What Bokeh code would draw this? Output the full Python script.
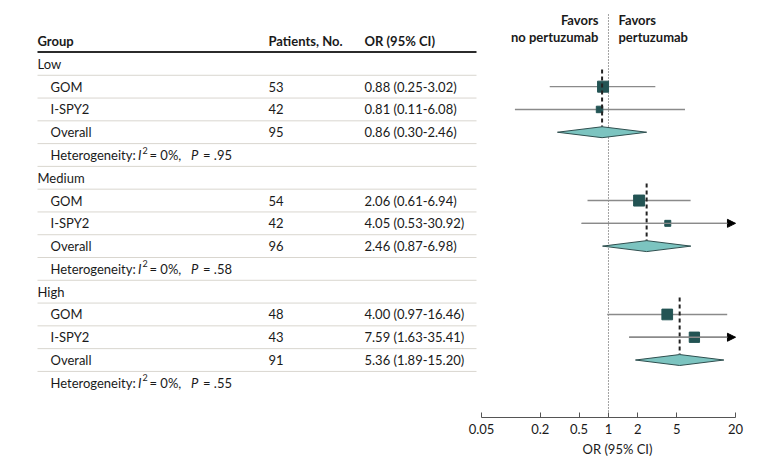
import math
from bokeh.plotting import figure
from bokeh.models import Range1d, LogAxis, LogScale, FixedTicker, Arrow, NormalHead, Title
from bokeh.core.properties import value
from bokeh.embed import file_html
from bokeh.resources import INLINE

# ---------------- data ----------------
groups = ["Low", "Medium", "High"]
studies = ["GOM", "I-SPY2"]
overall_label = "Overall"
patients = [53, 42, 95, 54, 42, 96, 48, 43, 91]          # GOM, I-SPY2, Overall per group
or_est = [0.88, 0.81, 0.86, 2.06, 4.05, 2.46, 4.00, 7.59, 5.36]
ci_lo = [0.25, 0.11, 0.30, 0.61, 0.53, 0.87, 0.97, 1.63, 1.89]
ci_hi = [3.02, 6.08, 2.46, 6.94, 30.92, 6.98, 16.46, 35.41, 15.20]
study_weight = [11, 6.5, 11, 6, 10.7, 10.3]               # square size per study row
het_i2 = ["0%", "0%", "0%"]
het_p = [".95", ".58", ".55"]
tick_values = [0.05, 0.2, 0.5, 1, 2, 5, 20]
tick_labels = ["0.05", "0.2", "0.5", "1", "2", "5", "20"]
header = ["Group", "Patients, No.", "OR (95% CI)"]
favors_left = ["Favors", "no pertuzumab"]
favors_right = ["Favors", "pertuzumab"]
x_label = "OR (95% CI)"

# ---------------- layout ----------------
W, H = 752, 460
FONT = value("Lato")
FS = "13px"
TXT = "#1a1a1a"
ROW0 = 40.6          # canvas y of header row centre
ROWH = 22.78
FRAME_BOTTOM = 417
ppd = 97.6           # pixels per decade
x005 = 481.0         # canvas x of 0.05
x20 = x005 + ppd * math.log10(20 / 0.05)
log_lo = 10 ** (math.log10(0.05) - x005 / ppd)
log_hi = 10 ** (math.log10(20) + (W - x20) / ppd)


def k_of(py):
    return (py - ROW0) / ROWH


p = figure(width=W, height=H,
           x_range=Range1d(0, W),
           y_range=Range1d(k_of(FRAME_BOTTOM), k_of(0)),
           x_axis_location=None, y_axis_location=None,
           output_backend="svg", toolbar_location=None,
           min_border=0, min_border_bottom=H - FRAME_BOTTOM)
p.extra_x_ranges = {"or": Range1d(log_lo, log_hi)}
p.extra_x_scales = {"or": LogScale()}
p.grid.visible = False
p.outline_line_color = None
p.background_fill_color = "white"

ax = LogAxis(x_range_name="or", ticker=FixedTicker(ticks=tick_values, minor_ticks=[]),
             bounds=(tick_values[0], tick_values[-1]))
ax.major_label_overrides = {v: l for v, l in zip(tick_values, tick_labels)}
ax.axis_line_color = "#555555"
ax.major_tick_line_color = "#555555"
ax.major_tick_in = 5
ax.major_tick_out = 0
ax.minor_tick_line_color = None
ax.major_label_text_font = "Lato"
ax.major_label_text_font_size = FS
ax.major_label_text_color = TXT
ax.major_label_standoff = 6
p.add_layout(ax, "below")

# axis title centred under the bounded log axis (at OR = 1)
p.add_layout(Title(text=x_label, align="left", offset=582, standoff=4,
                   text_font="Lato", text_font_size=FS, text_font_style="normal",
                   text_color=TXT), "below")

# ---------------- table ----------------
X_GROUP, X_SUB, X_PAT, X_OR = 37, 50, 268, 364
LINE_X0, LINE_X1 = 37, 476

p.text(x=[X_GROUP, X_PAT, X_OR], y=[0, 0, 0], text=header, text_font=FONT,
       text_font_size=FS, text_font_style="bold", text_color=TXT,
       text_baseline="middle", text_align="left")

tx, ty, tt = [], [], []
study_k, overall_k, group_k = [], [], []
het_rows = []
for gi, g in enumerate(groups):
    base = 1 + gi * 5
    group_k.append(base)
    tx.append(X_GROUP); ty.append(base); tt.append(g)
    names = studies + [overall_label]
    for j, name in enumerate(names):
        idx = gi * 3 + j
        k = base + 1 + j
        tx += [X_SUB, X_PAT, X_OR]
        ty += [k, k, k]
        tt += [name, str(patients[idx]),
               f"{or_est[idx]:.2f} ({ci_lo[idx]:.2f}-{ci_hi[idx]:.2f})"]
        if j < 2:
            study_k.append(k)
        else:
            overall_k.append(k)
    het_rows.append(base + 4)

p.text(x=tx, y=ty, text=tt, text_font=FONT, text_font_size=FS, text_color=TXT,
       text_baseline="middle", text_align="left")

# heterogeneity rows (mixed styles)
for gi, k in enumerate(het_rows):
    p.text(x=[X_SUB, 149, 202.5], y=[k, k, k],
           text=["Heterogeneity:", f"= {het_i2[gi]},", f"= {het_p[gi]}"],
           text_font=FONT, text_font_size=FS, text_color=TXT,
           text_baseline="middle", text_align="left")
    p.text(x=[137.5, 190.5], y=[k, k], text=["I", "P"], text_font=FONT,
           text_font_size=FS, text_font_style="italic", text_color=TXT,
           text_baseline="middle", text_align="left")
    p.text(x=[142], y=[k], text=["2"], text_font=FONT, text_font_size="9px",
           text_color=TXT, text_baseline="middle", text_align="left", y_offset=-5)

# row separator lines
sep_k = [k + 0.5 for k in range(1, 15)]
p.segment(x0=[LINE_X0] * len(sep_k), x1=[LINE_X1] * len(sep_k), y0=sep_k, y1=sep_k,
          line_color="#d9d6cf", line_width=1)
p.segment(x0=[LINE_X0], x1=[LINE_X1], y0=[0.48], y1=[0.48], line_color="#2b2b2b", line_width=2)

# ---------------- forest ----------------
axis_max = tick_values[-1]
study_idx = [gi * 3 + j for gi in range(3) for j in range(2)]
overall_idx = [gi * 3 + 2 for gi in range(3)]

# null line
p.segment(x0=[1], x1=[1], y0=[k_of(14)], y1=[k_of(FRAME_BOTTOM + 5)], x_range_name="or",
          line_color="#444444", line_width=1, line_dash="1 2")

# CI lines
p.segment(x0=[ci_lo[i] for i in study_idx], x1=[min(ci_hi[i], axis_max) for i in study_idx],
          y0=study_k, y1=study_k, x_range_name="or", line_color="#8a8a8a", line_width=1.4)
for i, k in zip(study_idx, study_k):
    if ci_hi[i] > axis_max:
        p.add_layout(Arrow(x_range_name="or", x_start=ci_lo[i], y_start=k, x_end=axis_max, y_end=k,
                           line_color="#8a8a8a", line_width=1.4,
                           end=NormalHead(size=8, fill_color="black", line_color="black")))

# squares
p.scatter(x=[or_est[i] for i in study_idx], y=study_k, size=study_weight, marker="square",
          x_range_name="or", fill_color="#235454", line_color="#235454")

# overall dashed lines
p.segment(x0=[or_est[i] for i in overall_idx], x1=[or_est[i] for i in overall_idx],
          y0=[g + 0.25 for g in group_k], y1=[k - 0.24 for k in overall_k],
          x_range_name="or", line_color="#222222", line_width=2, line_dash="4 3")

# diamonds
p.patches(xs=[[ci_lo[i], or_est[i], ci_hi[i], or_est[i]] for i in overall_idx],
          ys=[[k, k - 0.24, k, k + 0.24] for k in overall_k],
          x_range_name="or", fill_color="#7cc4c0", line_color="#2f4f4f", line_width=1)

# favors labels
p.text(x=[1, 1], y=[0, 0], text=favors_left, x_range_name="or", x_offset=-10,
       y_offset=[-21, -4], text_font=FONT, text_font_size=FS, text_font_style="bold",
       text_color=TXT, text_align="right", text_baseline="middle")
p.text(x=[1, 1], y=[0, 0], text=favors_right, x_range_name="or", x_offset=10,
       y_offset=[-21, -4], text_font=FONT, text_font_size=FS, text_font_style="bold",
       text_color=TXT, text_align="left", text_baseline="middle")

open("out.html", "w").write(file_html(p, INLINE))
